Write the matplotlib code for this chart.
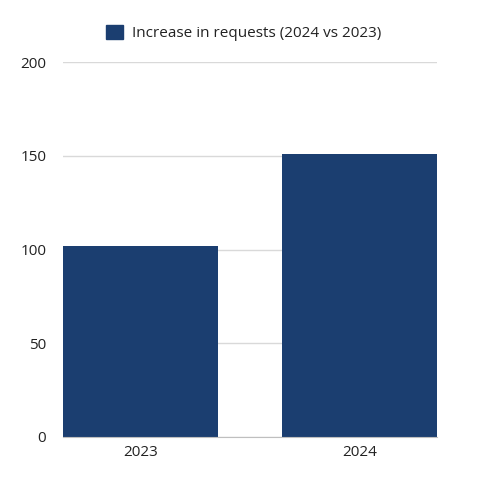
import matplotlib
matplotlib.use("Agg")
import matplotlib.pyplot as plt
from matplotlib.patches import Patch

categories = ["2023", "2024"]
values = [102, 151]
series_name = "Increase in requests (2024 vs 2023)"
yticks = [0, 50, 100, 150, 200]

color = "#1b3e70"
plt.rcParams['font.family'] = ['Open Sans', 'DejaVu Sans']

fig = plt.figure(figsize=(5, 5), dpi=100)
ax = fig.add_axes([0.126, 0.126, 0.748, 0.75])
x = list(range(len(categories)))
w = 0.708
ax.bar(x, values, width=w, color=color, zorder=3)
ax.set_xlim(-w / 2, len(categories) - 1 + w / 2)
ax.set_ylim(0, 200)
ax.set_yticks(yticks)
ax.set_xticks(x)
ax.set_xticklabels(categories)
ax.yaxis.grid(True, color="#d9d9d9", linewidth=1, zorder=0)
for s in ["top", "right", "left"]:
    ax.spines[s].set_visible(False)
ax.spines["bottom"].set_color("#bfbfbf")
ax.spines["bottom"].set_zorder(4)
ax.tick_params(axis="both", length=0, labelsize=11, colors="#222222")
ax.tick_params(axis="y", pad=12)
ax.tick_params(axis="x", pad=6)

handles = [Patch(facecolor=color, edgecolor=color)]
fig.legend(handles, [series_name], loc="center", bbox_to_anchor=(0.488, 0.934),
           frameon=False, fontsize=11, handlelength=1.1, handleheight=1.1,
           handletextpad=0.6, labelcolor="#222222")
fig.savefig("out.png", dpi=100, facecolor="white")
